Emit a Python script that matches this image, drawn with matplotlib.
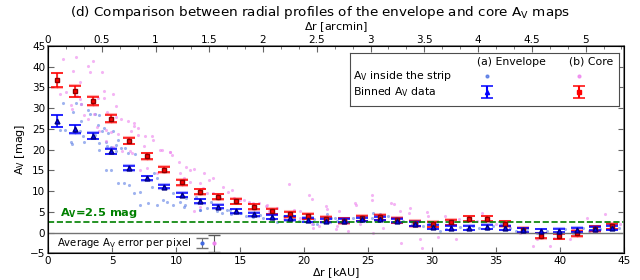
import matplotlib
matplotlib.use("Agg")
import matplotlib.pyplot as plt

# binned radial profiles (bin width 1.4 kAU)
bin_kau = [0.7, 2.1, 3.5, 4.9, 6.3, 7.7, 9.1, 10.5, 11.9, 13.3, 14.7, 16.1,
           17.5, 18.9, 20.3, 21.7, 23.1, 24.5, 25.9, 27.3, 28.7, 30.1, 31.5,
           32.9, 34.3, 35.7, 37.1, 38.5, 39.9, 41.3, 42.7, 44.1]
env_av = [26.9, 24.9, 23.3, 19.6, 15.6, 13.1, 11.1, 9.1, 7.6, 6.3, 5.2, 4.4,
          3.8, 3.5, 3.1, 2.9, 2.9, 3.2, 3.4, 2.9, 2.1, 1.4, 1.2, 1.2, 1.4,
          1.2, 0.6, 0.4, 0.5, 0.7, 1.0, 1.2]
env_err = [1.4, 1.0, 0.7, 0.6, 0.5, 0.5, 0.45, 0.45, 0.45, 0.45, 0.45, 0.45,
           0.45, 0.45, 0.45, 0.45, 0.45, 0.45, 0.45, 0.45, 0.45, 0.45, 0.45,
           0.45, 0.45, 0.45, 0.45, 0.45, 0.45, 0.45, 0.45, 0.45]
core_av = [36.7, 34.1, 31.7, 27.5, 22.1, 18.4, 15.2, 12.1, 9.8, 8.6, 7.6, 6.2,
           5.2, 4.4, 4.0, 3.2, 2.9, 3.5, 3.7, 3.0, 2.2, 2.0, 2.5, 3.3, 3.3,
           2.1, 0.6, -0.8, -0.9, -0.2, 0.9, 1.6]
core_err = [1.7, 1.3, 1.0, 0.85, 0.7, 0.7, 0.65, 0.65, 0.6, 0.6, 0.6, 0.6,
            0.6, 0.6, 0.6, 0.6, 0.6, 0.6, 0.6, 0.6, 0.6, 0.6, 0.6, 0.6, 0.6,
            0.6, 0.6, 0.6, 0.6, 0.6, 0.6, 0.6]

# pixels inside the strip (envelope map)
env_px_x = [1.2, 1.95, 2.2, 2.6, 0.9, 1.3, 2.55, 2.5, 2.7, 1.8, 1.9, 2.8, 3.1,
            3.3, 3.65, 4.0, 3.9, 4.2, 4.4, 4.7, 5.1, 3.7, 4.0, 4.5, 4.6, 5.3,
            5.5, 5.7, 4.9, 6.0, 4.0, 5.3, 6.25, 6.8, 4.5, 4.9, 5.9, 6.3, 5.5,
            6.7, 7.2, 7.2, 7.8, 8.5, 9.3, 9.8, 10.3, 10.7, 10.8, 11.6, 12.4,
            11.9, 13.2, 13.6, 14.2, 15.0, 15.5, 16.0, 16.8, 17.6, 18.4, 19.2,
            19.9, 20.7, 8.3, 8.5, 8.1, 9.0, 9.8, 10.6, 11.9, 12.7, 13.2, 14.0,
            14.3, 15.1, 15.9, 16.6, 17.4, 17.9, 19.0, 19.6, 20.0, 20.8, 21.0,
            22.1, 22.6, 21.8, 22.4, 23.3, 23.8, 24.6, 25.3, 25.4, 25.9, 26.6,
            27.2, 27.7, 28.4, 28.8, 29.3, 29.8, 30.2, 30.6, 31.1, 31.6, 32.2,
            32.7, 33.2, 33.7, 34.3, 34.8, 35.4, 36.1, 36.6, 37.4, 38.2, 39.0,
            39.7, 40.4, 41.0, 41.8, 42.3, 43.1, 43.9, 44.6]
env_px_y = [31.3, 29.0, 31.2, 30.9, 24.8, 24.8, 26.9, 24.4, 23.2, 21.8, 21.4,
            21.8, 29.5, 28.7, 28.7, 28.3, 26.0, 24.4, 25.3, 24.0, 24.6, 23.6,
            21.6, 21.8, 20.8, 21.2, 22.4, 20.4, 20.6, 20.4, 20.0, 19.6, 19.2,
            18.9, 15.1, 15.0, 11.9, 11.5, 11.9, 9.5, 9.7, 6.7, 7.1, 6.7, 7.5,
            9.5, 7.5, 6.7, 8.3, 8.7, 5.9, 5.5, 6.7, 4.8, 5.5, 4.8, 4.0, 3.7,
            3.5, 2.8, 4.0, 3.5, 3.2, 2.0, 14.3, 13.1, 11.1, 7.9, 6.7, 6.3, 5.5,
            7.5, 5.2, 5.5, 4.4, 4.8, 4.0, 4.2, 3.6, 2.6, 3.6, 2.8, 3.6, 3.2,
            2.1, 3.6, 2.8, 4.4, 3.6, 2.8, 3.6, 3.2, 3.6, 4.8, 4.4, 4.0, 3.6,
            2.8, 2.0, 2.4, 1.6, 2.0, 1.4, 0.4, 0.8, 2.0, 1.4, 0.8, 1.6, 1.2,
            1.0, 1.6, 2.4, 1.2, 0.4, 0.8, 0.0, 0.4, 0.0, 0.8, 0.0, 1.2, 0.4,
            0.8, 2.0, 1.2]

# pixels inside the strip (core map)
core_px_x = [1.2, 2.2, 3.5, 1.95, 3.1, 3.3, 4.2, 0.9, 1.4, 2.5, 2.3, 2.5, 2.6,
             1.8, 1.9, 3.9, 4.4, 5.1, 4.4, 5.3, 2.8, 3.1, 3.6, 4.6, 5.3, 5.7,
             6.25, 6.7, 6.7, 7.0, 3.8, 4.0, 4.5, 4.9, 5.5, 6.5, 7.0, 7.6, 8.1,
             8.2, 7.5, 8.9, 9.5, 4.5, 5.1, 5.8, 6.4, 6.6, 8.75, 9.5, 9.67,
             10.2, 10.8, 11.1, 11.4, 12.2, 12.6, 12.9, 13.7, 14.1, 14.4, 15.3,
             15.7, 16.5, 17.0, 17.3, 18.8, 20.4, 20.6, 21.7, 21.8, 22.5, 21.2,
             19.7, 18.4, 7.2, 7.7, 8.5, 10.3, 10.6, 11.1, 11.9, 12.1, 12.4,
             12.9, 13.4, 14.5, 15.0, 15.7, 16.0, 17.1, 17.5, 17.9, 19.2, 19.7,
             20.7, 20.6, 11.9, 11.4, 24.0, 24.1, 25.3, 25.3, 25.4, 26.2, 26.8,
             27.0, 27.5, 27.6, 28.3, 28.2, 29.1, 29.2, 29.6, 29.7, 30.5, 31.0,
             31.3, 31.9, 32.1, 33.9, 33.5, 35.0, 35.8, 36.9, 37.9, 38.2, 39.2,
             39.5, 40.8, 41.0, 42.1, 42.9, 43.5, 44.7, 22.6, 22.7, 23.4, 24.4]
core_px_y = [41.8, 42.4, 41.4, 39.0, 40.1, 38.6, 38.8, 33.5, 34.0, 36.3, 32.9,
             32.1, 31.1, 30.7, 29.8, 32.5, 34.1, 33.5, 32.5, 30.6, 28.3, 27.4,
             28.5, 29.1, 27.9, 27.4, 27.0, 26.5, 25.8, 25.3, 25.4, 24.5, 24.8,
             24.2, 23.7, 24.4, 23.6, 23.4, 23.3, 22.4, 21.0, 19.8, 19.4, 22.0,
             20.6, 19.6, 19.7, 19.2, 20.0, 19.4, 18.6, 17.1, 15.9, 15.2, 15.3,
             14.4, 12.7, 13.1, 11.1, 9.9, 10.3, 7.9, 7.5, 7.1, 6.4, 5.2, 11.7,
             9.1, 8.2, 6.4, 5.6, 0.8, 1.6, 3.6, 3.2, 15.0, 15.5, 14.3, 14.3,
             13.1, 12.3, 11.9, 10.7, 9.5, 9.5, 8.3, 8.3, 7.9, 7.1, 7.1, 6.7,
             5.5, 5.9, 5.5, 5.1, 1.2, 2.0, 6.3, 5.1, 7.1, 6.7, 9.0, 7.9, 0.0,
             1.2, 7.1, 6.9, 5.2, -2.4, 6.0, 4.8, -1.6, -3.6, 4.9, 4.0, -1.0,
             4.0, 2.4, -1.6, 3.2, 4.8, 2.8, 2.0, 1.2, 0.0, -3.2, -1.6, -3.2,
             -1.2, -1.6, 0.8, 3.6, 1.6, 4.4, 2.0, 1.6, 5.2, 0.4, 2.0]

# average error per pixel
pix_err_x = [12.0, 13.0]
pix_err_y = [-2.5, -2.6]
pix_err = [1.2, 2.0]

threshold = 2.5
kau_per_arcmin = 8.4

plt.rcParams["font.family"] = "DejaVu Sans"
plt.rcParams["xtick.direction"] = "in"
plt.rcParams["ytick.direction"] = "in"
plt.rcParams["xtick.labelsize"] = 7.5
plt.rcParams["ytick.labelsize"] = 7.5

fig = plt.figure(figsize=(6.4, 2.8), dpi=100)
ax = fig.add_axes([0.075, 0.095, 0.9, 0.741])

ax.scatter(env_px_x, env_px_y, s=5, color="royalblue", alpha=0.5, lw=0)
ax.scatter(core_px_x, core_px_y, s=5, color="violet", alpha=0.6, lw=0)

# binned data, light wide bars under solid ones
ax.errorbar(bin_kau, core_av, yerr=[e + 0.15 for e in core_err], fmt="none",
            ecolor="red", alpha=0.3, capsize=4, capthick=1.5, elinewidth=1)
ax.errorbar(bin_kau, core_av, yerr=core_err, fmt="s", color="red", mec="darkred",
            ms=3.5, capsize=4, capthick=1.1, elinewidth=1.1)
ax.errorbar(bin_kau, env_av, yerr=[e + 0.15 for e in env_err], fmt="none",
            ecolor="blue", alpha=0.3, capsize=4, capthick=1.5, elinewidth=1)
ax.errorbar(bin_kau, env_av, yerr=env_err, fmt="^", color="blue", mec="navy",
            ms=3.5, capsize=4, capthick=1.1, elinewidth=1.1)

ax.axhline(threshold, color="green", ls="--", lw=1.2)
ax.text(0.9, threshold + 0.6, r"A$_\mathregular{V}$=2.5 mag", color="green",
        fontsize=8.2, fontweight="bold", va="bottom")
ax.axhline(0, color="0.45", lw=1)

# average error per pixel
ax.text(0.7, -2.5, r"Average A$_\mathregular{V}$ error per pixel", fontsize=7.3, va="center")
ax.errorbar(pix_err_x[0], pix_err_y[0], yerr=pix_err[0], fmt="o", ms=2,
            color="royalblue", ecolor="0.45", capsize=4, elinewidth=0.8)
ax.errorbar(pix_err_x[1], pix_err_y[1], yerr=pix_err[1], fmt="o", ms=2,
            color="violet", ecolor="0.35", capsize=4, elinewidth=0.8)

ax.set_xlim(0, 45)
ax.set_ylim(-5, 45)
ax.set_xticks(range(0, 46, 5))
ax.set_yticks(range(-5, 46, 5))
ax.tick_params(right=True, length=4, color="0.4", pad=2)
ax.set_xlabel(r"$\Delta$r [kAU]", fontsize=8, labelpad=0)
ax.set_ylabel(r"A$_\mathregular{V}$ [mag]", fontsize=8, labelpad=2)
for sp in ax.spines.values():
    sp.set_color("0.45")
    sp.set_linewidth(1.2)

ax2 = ax.twiny()
ax2.set_xlim(0, 45 / kau_per_arcmin)
ax2.set_xticks([0, 0.5, 1, 1.5, 2, 2.5, 3, 3.5, 4, 4.5, 5])
ax2.set_xticklabels(["0", "0.5", "1", "1.5", "2", "2.5", "3", "3.5", "4", "4.5", "5"])
ax2.set_xticks([k / 6 for k in range(33)], minor=True)
ax2.tick_params(length=4, color="0.4", pad=1)
ax2.tick_params(which="minor", length=2, color="0.4")
ax2.set_xlabel(r"$\Delta$r [arcmin]", fontsize=8, labelpad=3)

# legend table
lg = ax.inset_axes([0.524, 0.71, 0.467, 0.257])
lg.set_xlim(350, 619)
lg.set_ylim(107, 53)
lg.set_xticks([])
lg.set_yticks([])
for sp in lg.spines.values():
    sp.set_color("0.3")
lg.text(512, 62, "(a) Envelope", ha="center", va="center", fontsize=7.8)
lg.text(591, 62, "(b) Core", ha="center", va="center", fontsize=7.8)
lg.text(353, 77, r"A$_\mathregular{V}$ inside the strip", va="center", fontsize=7.8)
lg.text(353, 93, r"Binned A$_\mathregular{V}$ data", va="center", fontsize=7.8)
lg.plot([487], [77], "o", ms=2, color="royalblue", alpha=0.7)
lg.plot([579], [77], "o", ms=2, color="violet", alpha=0.8)
lg.errorbar([487], [93], yerr=[6], fmt="^", ms=3, color="blue", capsize=4, capthick=1.1)
lg.errorbar([579], [93], yerr=[6], fmt="s", ms=3.5, color="red", capsize=4, capthick=1.1)

fig.suptitle(r"(d) Comparison between radial profiles of the envelope and core A$_\mathregular{V}$ maps",
             fontsize=9.7, y=0.985)

fig.savefig("out.png", dpi=100)
